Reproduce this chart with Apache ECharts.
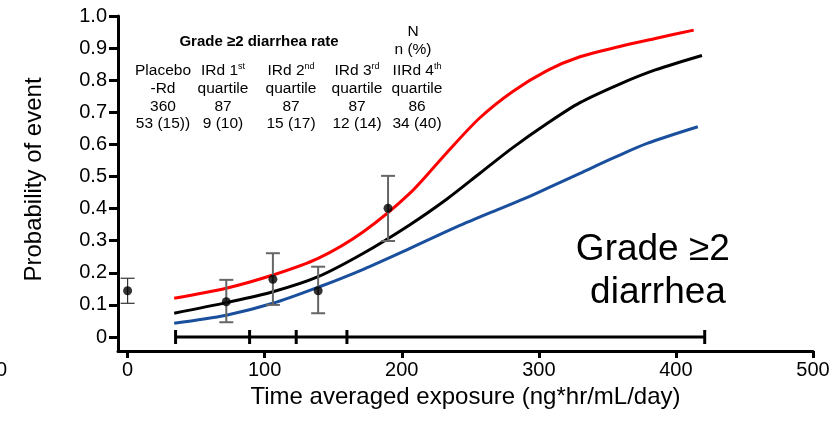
<!DOCTYPE html>
<html>
<head>
<meta charset="utf-8">
<script src="https://cdn.jsdelivr.net/npm/echarts@6/dist/echarts.min.js"></script>
<style>
html,body{margin:0;padding:0;background:#fff;}
#c{width:838px;height:421px;}
</style>
</head>
<body>
<div id="c"></div>
<script>
// ---- data ----
const xTickValues = [0, 100, 200, 300, 400, 500];
const yTickValues = [0, 0.1, 0.2, 0.3, 0.4, 0.5, 0.6, 0.7, 0.8, 0.9, 1.0];

const upperCurve = [[34,0.121],[72,0.152],[106,0.193],[139,0.245],[172,0.328],[206,0.448],[233,0.575],[257,0.683],[281,0.765],[306,0.83],[330,0.873],[359,0.905],[385,0.93],[413,0.956]];
const medianCurve = [[34,0.074],[72,0.107],[106,0.141],[139,0.188],[172,0.261],[206,0.35],[233,0.43],[257,0.51],[281,0.59],[306,0.665],[330,0.73],[359,0.788],[385,0.832],[419,0.877]];
const lowerCurve = [[34,0.043],[72,0.068],[106,0.105],[139,0.155],[172,0.211],[206,0.276],[240,0.343],[270,0.397],[289,0.43],[306,0.463],[330,0.51],[354,0.557],[379,0.603],[416,0.655]];

// observed rates: [exposure, rate, lower, upper]
const placeboObs = [[0, 0.144, 0.105, 0.183]];
const quartileObs = [[72, 0.11, 0.046, 0.178],[106, 0.18, 0.10, 0.261],[139, 0.144, 0.074, 0.219],[190, 0.401, 0.299, 0.502]];

// quartile exposure boundaries
const quartileBounds = [35, 89, 123, 160, 421];

// table text
const tableHeader = 'Grade \u22652 diarrhea rate';
const tableNHeader = ['N', 'n (%)'];
const tableGroups = [['Placebo', ''], ['IRd 1', 'st'], ['IRd 2', 'nd'], ['IRd 3', 'rd'], ['IIRd 4', 'th']];
const tableSub = ['-Rd', 'quartile', 'quartile', 'quartile', 'quartile'];
const tableN = ['360', '87', '87', '87', '86'];
const tableEvents = ['53 (15))', '9 (10)', '15 (17)', '12 (14)', '34 (40)'];
const panelLabel = 'Grade \u22652 \ndiarrhea';

const xName = 'Time averaged exposure (ng*hr/mL/day)';
const yName = 'Probability of event';

// ---- chart ----
const FONT = '"Liberation Sans", Arial, Helvetica, sans-serif';
const chart = echarts.init(document.getElementById('c'));

const colX = [163, 223, 291, 357, 417];
const tableGraphics = tableGroups.map((g, i) => {
  const first = g[1] ? g[0] + '{sup|' + g[1] + '}' : g[0];
  return {
    type: 'text', x: colX[i], y: 62, silent: true,
    style: {
      text: [first, tableSub[i], tableN[i], tableEvents[i]].join('\n'),
      font: '15.5px ' + FONT, fill: '#000', align: 'center', verticalAlign: 'top',
      lineHeight: 17.7,
      rich: { sup: { fontSize: 9, fontFamily: FONT, verticalAlign: 'top', lineHeight: 17.7, fill: '#000' } }
    }
  };
});

function errorBarRender(color, lw) {
  return function (params, api) {
    const x = api.value(0);
    const lo = api.coord([x, api.value(2)]);
    const hi = api.coord([x, api.value(3)]);
    const w = 7;
    const st = { stroke: color, lineWidth: lw };
    return {
      type: 'group',
      children: [
        { type: 'line', shape: { x1: lo[0], y1: lo[1], x2: hi[0], y2: hi[1] }, style: st },
        { type: 'line', shape: { x1: lo[0] - w, y1: lo[1], x2: lo[0] + w, y2: lo[1] }, style: st },
        { type: 'line', shape: { x1: hi[0] - w, y1: hi[1], x2: hi[0] + w, y2: hi[1] }, style: st }
      ]
    };
  };
}

const option = {
  animation: false,
  backgroundColor: '#fff',
  grid: { left: 118, right: 25, top: 16, bottom: 70, containLabel: false },
  xAxis: {
    type: 'value', min: -7, max: 500,
    name: xName, nameLocation: 'middle', nameGap: 31,
    nameTextStyle: { fontFamily: FONT, fontSize: 24, color: '#000' },
    axisLine: { show: true, onZero: false, lineStyle: { color: '#000', width: 3 } },
    axisTick: { show: true, length: 7, lineStyle: { color: '#000', width: 3 }, customValues: xTickValues },
    axisLabel: { fontFamily: FONT, fontSize: 20, color: '#000', margin: 9, customValues: xTickValues,
      formatter: v => String(v) },
    splitLine: { show: false }
  },
  yAxis: {
    type: 'value', min: -0.0436, max: 1,
    name: yName, nameLocation: 'middle', nameGap: 72, nameRotate: 90,
    nameTextStyle: { fontFamily: FONT, fontSize: 24, color: '#000', padding: [0, 0, 0, 8] },
    axisLine: { show: true, onZero: false, lineStyle: { color: '#000', width: 3 } },
    axisTick: { show: true, length: 9, lineStyle: { color: '#000', width: 3 }, customValues: yTickValues },
    axisLabel: { fontFamily: FONT, fontSize: 20, color: '#000', margin: 11, customValues: yTickValues,
      formatter: v => (Math.abs(v) < 1e-9 ? '0' : v.toFixed(1)) },
    splitLine: { show: false }
  },
  series: [
    { name: 'quartile range', type: 'line', data: [[quartileBounds[0], 0], [quartileBounds[quartileBounds.length - 1], 0]],
      symbol: 'none', lineStyle: { color: '#000', width: 3 }, z: 2 },
    { name: 'quartile ticks', type: 'custom', data: quartileBounds.map(b => [b, 0]),
      renderItem: (params, api) => {
        const p = api.coord([api.value(0), api.value(1)]);
        return { type: 'line', shape: { x1: p[0], y1: p[1] - 7, x2: p[0], y2: p[1] + 7 }, style: { stroke: '#000', lineWidth: 3 } };
      }, z: 2 },
    { name: 'upper', type: 'line', data: upperCurve, smooth: 0.3, symbol: 'none',
      lineStyle: { color: '#ff0000', width: 3 }, z: 3 },
    { name: 'median', type: 'line', data: medianCurve, smooth: 0.3, symbol: 'none',
      lineStyle: { color: '#000', width: 3 }, z: 3 },
    { name: 'lower', type: 'line', data: lowerCurve, smooth: 0.3, symbol: 'none',
      lineStyle: { color: '#1a4f9e', width: 3 }, z: 3 },
    { name: 'placebo err', type: 'custom', data: placeboObs, renderItem: errorBarRender('#333', 1.2), z: 4 },
    { name: 'quartile err', type: 'custom', data: quartileObs, renderItem: errorBarRender('#666', 2), z: 4 },
    { name: 'observed', type: 'scatter', data: placeboObs.concat(quartileObs).map(d => [d[0], d[1]]),
      symbol: 'circle', symbolSize: 9, itemStyle: { color: '#000' }, z: 5 }
  ],
  graphic: [
    { type: 'text', x: 259, y: 34, silent: true,
      style: { text: tableHeader, font: 'bold 15px ' + FONT, fill: '#000', align: 'center', verticalAlign: 'top' } },
    { type: 'text', x: 413, y: 23, silent: true,
      style: { text: tableNHeader.join('\n'), font: '15.5px ' + FONT, fill: '#000', align: 'center', verticalAlign: 'top', lineHeight: 18 } },
    ...tableGraphics,
    { type: 'text', x: 658, y: 228, silent: true,
      style: { text: panelLabel, font: '37px ' + FONT, fill: '#000', align: 'center', verticalAlign: 'top', lineHeight: 43 } },
    { type: 'text', x: -4, y: 360, silent: true,
      style: { text: '0', font: '20px ' + FONT, fill: '#000', align: 'left', verticalAlign: 'top' } }
  ]
};
chart.setOption(option);
</script>
</body>
</html>
